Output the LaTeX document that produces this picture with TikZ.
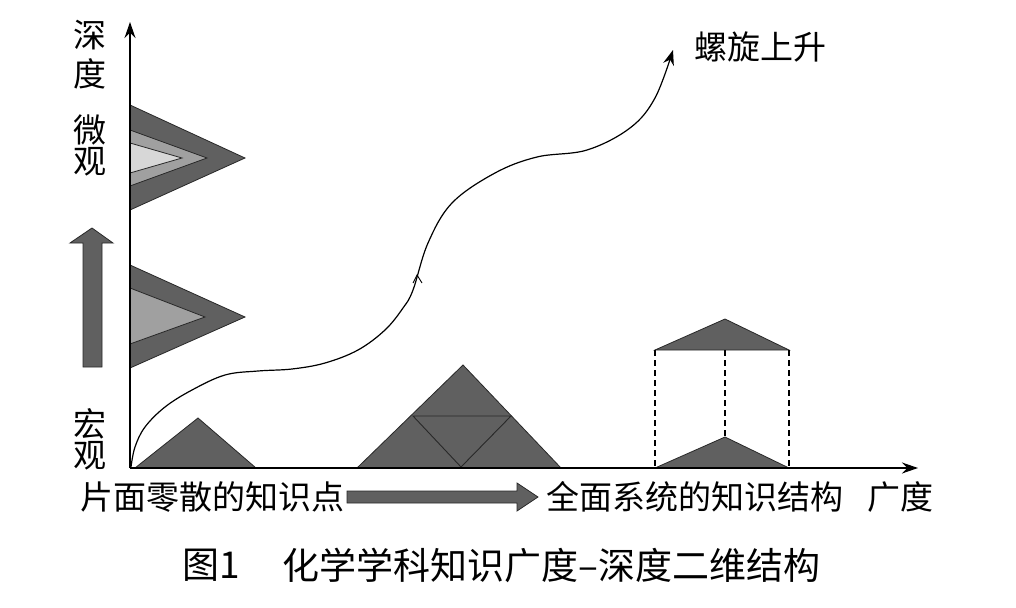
\documentclass[tikz,border=0pt]{standalone}
\usepackage{fontspec}
\newfontfamily\cjk{Noto Sans CJK SC}
\usetikzlibrary{arrows.meta}
\definecolor{dk}{RGB}{96,96,96}
\definecolor{md}{RGB}{160,160,160}
\definecolor{lt}{RGB}{215,215,215}
\definecolor{ln}{RGB}{40,40,40}
\tikzset{
  axis/.style={line width=1.3pt,-{Stealth[length=16pt,width=11pt]}},
  darkshape/.style={fill=dk,draw=ln,line width=0.8pt,line join=miter},
  midshape/.style={fill=md,draw=ln,line width=0.8pt},
  lightshape/.style={fill=lt,draw=ln,line width=0.8pt},
  lbl/.style={font=\cjk\fontsize{33}{35}\selectfont,inner sep=0pt},
  captext/.style={font=\cjk\fontsize{37}{39}\selectfont,inner sep=0pt},
  dashedline/.style={line width=1.2pt,dash pattern=on 6pt off 4pt},
  bigarrow/.style={fill=dk,draw=ln,line width=0.8pt}
}
\begin{document}
\begin{tikzpicture}[x=1pt,y=-1pt]
\useasboundingbox[fill=white] (0,0) rectangle (1016,607);
\coordinate (O) at (130,468);
\coordinate (Ytop) at (130,22);
\coordinate (Xend) at (918,468);
% upper (micro) triangles
\path[darkshape] (130,105) -- (245,158) -- (130,210) -- cycle;
\path[midshape] (130,130) -- (207,158) -- (130,186) -- cycle;
\path[lightshape] (130,143) -- (182,158) -- (130,173) -- cycle;
% middle triangles
\path[darkshape] (130,265) -- (245,317) -- (130,368) -- cycle;
\path[midshape] (130,288) -- (205,317) -- (130,344) -- cycle;
% vertical big arrow
\path[bigarrow] (83,367) -- (83,243) -- (70,243) -- (92,228) -- (113,243) -- (102,243) -- (102,367) -- cycle;
% bottom-left triangle
\path[darkshape] (135,468) -- (198,418) -- (256,468) -- cycle;
% middle big triangle
\path[darkshape] (357,468) -- (463,365) -- (561,468) -- cycle;
\draw[ln,line width=0.9pt] (413,416) -- (511,416) -- (461,467) -- cycle;
% right structure
\path[darkshape] (655,350) -- (725,319) -- (789,350) -- cycle;
\path[darkshape] (655,468) -- (725,437) -- (789,468) -- cycle;
\draw[dashedline] (655,350) -- (655,468);
\draw[dashedline] (725,350) -- (725,437);
\draw[dashedline] (789,350) -- (789,468);
% axes
\draw[axis] (O) -- (Ytop);
\draw[axis] (O) -- (Xend);
% spiral curve
\draw[line width=1.2pt,-{Stealth[length=15pt,width=11pt]}] plot[smooth,tension=0.6] coordinates {(131,467) (135,447) (145,427) (165,407) (192,390) (225,375) (258,371) (292,369) (325,363) (358,350) (385,330) (403,308) (413,290) (428,243) (452,203) (495,173) (537,157) (587,150) (630,128) (655,98) (673,50)};
\draw[line width=0.9pt] (413,283) -- (417,275) -- (422,283);
% horizontal big arrow
\path[bigarrow] (347,491) -- (517,491) -- (517,483) -- (538,497) -- (517,511) -- (517,503) -- (347,503) -- cycle;
% labels
\node[lbl] (shen) at (90,35) {深};
\node[lbl] (du) at (90,74) {度};
\node[lbl] (wei) at (90,130) {微};
\node[lbl] (guan1) at (90,162) {观};
\node[lbl] (hong) at (90,424) {宏};
\node[lbl] (guan2) at (90,456) {观};
\node[lbl] (luoxuan) at (760,47) {螺旋上升};
\node[lbl,anchor=east] (left) at (345,497) {片面零散的知识点};
\node[lbl,anchor=west] (right) at (546,497) {全面系统的知识结构};
\node[lbl] (guangdu) at (900,497) {广度};
\node[captext,anchor=west] (fig) at (182,565) {图1};
\node[captext,anchor=west] (title) at (282,565) {化学学科知识广度–深度二维结构};
\end{tikzpicture}
\end{document}
